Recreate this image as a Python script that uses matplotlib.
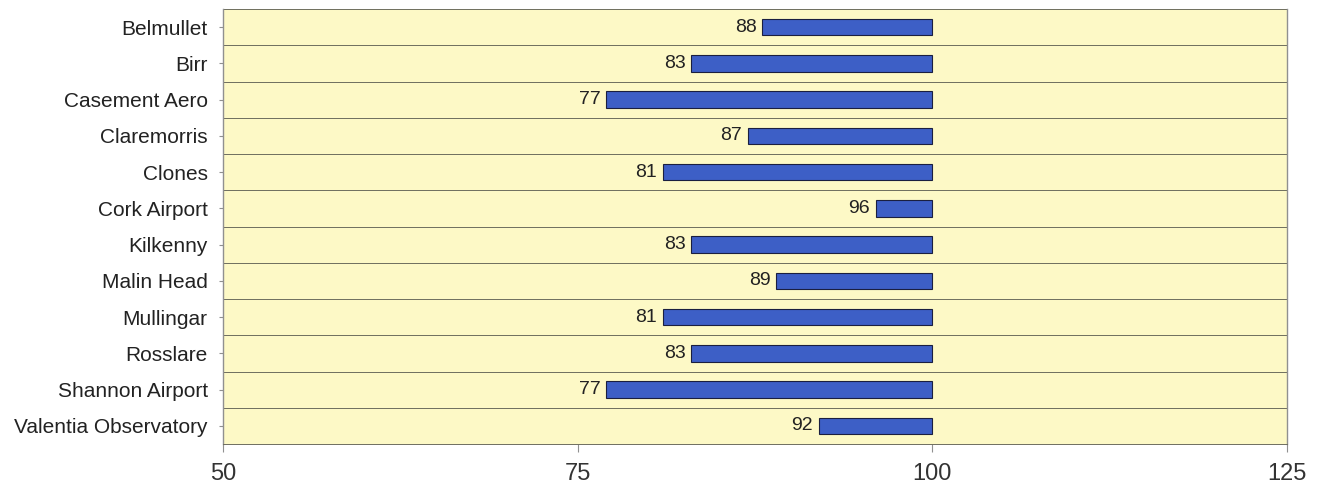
import matplotlib.pyplot as plt
import numpy as np

plt.rcParams['font.family'] = ['Liberation Sans', 'DejaVu Sans']

stations = ["Belmullet", "Birr", "Casement Aero", "Claremorris", "Clones",
            "Cork Airport", "Kilkenny", "Malin Head", "Mullingar", "Rosslare",
            "Shannon Airport", "Valentia Observatory"]
values = [88, 83, 77, 87, 81, 96, 83, 89, 81, 83, 77, 92]
base = 100
xticks = [50, 75, 100, 125]

fig = plt.figure(figsize=(13.23, 4.98), dpi=100)
ax = fig.add_axes([223/1323, 1 - 444/498, (1287-223)/1323, (444-9)/498])
ax.set_facecolor('#fdf9c6')

y = np.arange(len(stations))
widths = [base - v for v in values]
ax.barh(y, widths, left=values, height=0.45, color='#3d5fc6',
        edgecolor='#1a1f40', linewidth=0.8, zorder=3)

# value label just left of each bar
for yi, v in zip(y, values):
    ax.text(v - 0.4, yi, str(v), ha='right', va='center', fontsize=14,
            color='#222222', zorder=4)

ax.set_xlim(50, 125)
ax.set_ylim(len(stations) - 0.5, -0.5)
ax.set_xticks(xticks)
ax.set_xticklabels([str(t) for t in xticks], fontsize=17, color='#333333')
ax.set_yticks(y)
ax.set_yticklabels(stations, fontsize=15, color='#222222')

# row separators
for b in np.arange(-0.5, len(stations) - 0.5, 1):
    ax.axhline(b, color='#6e6e5e', linewidth=0.7, zorder=2)

for s in ['left', 'right']:
    ax.spines[s].set_color('#909090')
    ax.spines[s].set_linewidth(1.0)
ax.spines['top'].set_visible(False)
ax.spines['bottom'].set_color('#6e6e5e')
ax.spines['bottom'].set_linewidth(0.7)

ax.tick_params(axis='y', length=3, color='#909090', pad=8)
ax.tick_params(axis='x', length=6, color='#909090', pad=8)

fig.savefig('out.png', dpi=100, facecolor='white')
